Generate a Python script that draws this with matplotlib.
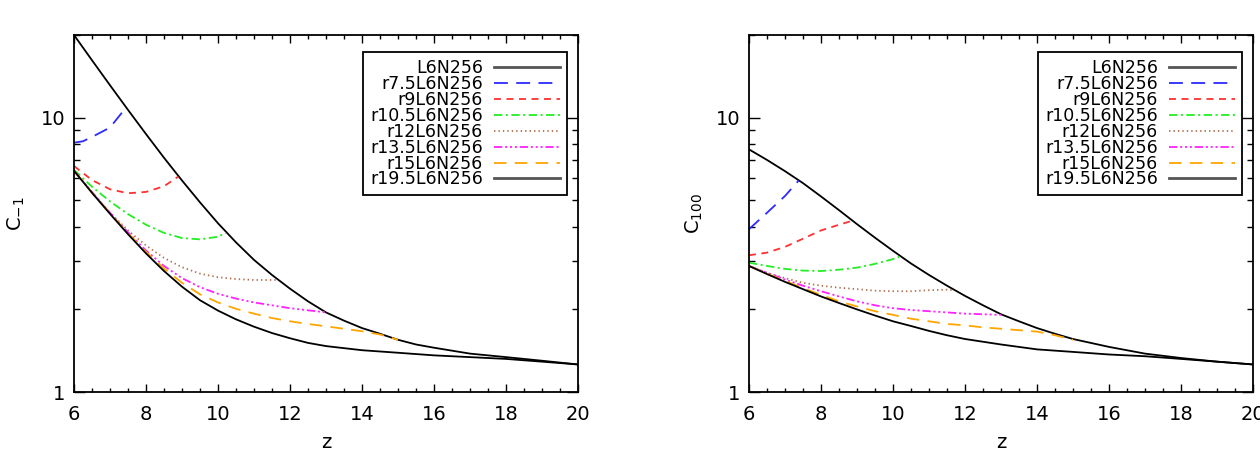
import matplotlib
matplotlib.use("Agg")
import matplotlib.pyplot as plt
from matplotlib.ticker import FixedLocator, FixedFormatter, NullFormatter

plt.rcParams["font.family"] = ["DejaVu Sans"]
plt.rcParams["lines.scale_dashes"] = False

# ---------------- data ----------------
# left panel: C_-1
x_up_l = [6, 6.5, 7, 7.5, 8, 8.5, 9, 9.5, 10, 10.5, 11, 11.5, 12, 12.5, 13, 13.5, 14, 14.5, 15, 15.5, 16, 17, 18, 19, 20]
y_up_l = [20.0, 16.18, 13.12, 10.67, 8.71, 7.14, 5.90, 4.91, 4.12, 3.51, 3.03, 2.67, 2.38, 2.14, 1.95,
          1.82, 1.71, 1.63, 1.55, 1.49, 1.45, 1.38, 1.34, 1.30, 1.26]
x_lo_l = [6, 6.5, 7, 7.5, 8, 8.5, 9, 9.5, 10, 10.5, 11, 11.5, 12, 12.5, 13, 14, 15, 16, 17, 18, 19, 20]
y_lo_l = [6.40, 5.32, 4.46, 3.76, 3.20, 2.76, 2.42, 2.16, 1.98, 1.84, 1.73, 1.64, 1.57, 1.51, 1.47,
          1.42, 1.39, 1.36, 1.34, 1.32, 1.29, 1.26]
x_r75_l = [6, 6.25, 6.5, 7, 7.45]
y_r75_l = [8.1, 8.2, 8.5, 9.2, 10.9]
x_r9_l = [6, 6.5, 7, 7.5, 8, 8.5, 8.9]
y_r9_l = [6.66, 5.92, 5.48, 5.30, 5.36, 5.62, 6.1]
x_r105_l = [6, 6.5, 7, 7.5, 8, 8.5, 9, 9.5, 10, 10.22]
y_r105_l = [6.45, 5.6, 4.95, 4.45, 4.07, 3.8, 3.64, 3.6, 3.68, 3.8]
x_r12_l = [6, 6.5, 7, 7.5, 8, 8.5, 9, 9.5, 10, 10.5, 11, 11.66]
y_r12_l = [6.4, 5.35, 4.5, 3.88, 3.42, 3.08, 2.85, 2.70, 2.62, 2.58, 2.56, 2.56]
x_r135_l = [6, 6.5, 7, 7.5, 8, 8.5, 9, 9.5, 10, 10.5, 11, 11.5, 12, 12.5, 13]
y_r135_l = [6.4, 5.35, 4.5, 3.82, 3.28, 2.88, 2.60, 2.41, 2.28, 2.19, 2.12, 2.07, 2.02, 1.985, 1.95]
x_r15_l = [6, 6.5, 7, 7.5, 8, 8.5, 9, 9.5, 10, 10.5, 11, 11.5, 12, 12.5, 13, 13.5, 14, 14.5, 15]
y_r15_l = [6.4, 5.33, 4.48, 3.79, 3.24, 2.82, 2.50, 2.27, 2.12, 2.01, 1.93, 1.86, 1.81, 1.77, 1.735,
           1.70, 1.665, 1.62, 1.55]

# right panel: C_100
x_up_r = [6, 6.5, 7, 7.5, 8, 8.5, 9, 9.5, 10, 10.5, 11, 11.5, 12, 12.5, 13, 13.5, 14, 14.5, 15, 16, 17, 18, 19, 20]
y_up_r = [7.66, 7.01, 6.38, 5.77, 5.16, 4.60, 4.09, 3.65, 3.27, 2.94, 2.67, 2.44, 2.24, 2.07, 1.92,
          1.81, 1.71, 1.63, 1.56, 1.46, 1.38, 1.33, 1.29, 1.26]
x_lo_r = [6, 6.5, 7, 7.5, 8, 8.5, 9, 9.5, 10, 10.5, 11, 11.5, 12, 13, 14, 15, 16, 17, 18, 19, 20]
y_lo_r = [2.88, 2.69, 2.52, 2.37, 2.23, 2.11, 2.00, 1.90, 1.81, 1.74, 1.67, 1.61, 1.56, 1.49, 1.43,
          1.40, 1.37, 1.35, 1.32, 1.29, 1.26]
x_r75_r = [6, 6.25, 6.5, 7, 7.38]
y_r75_r = [3.92, 4.2, 4.5, 5.18, 5.9]
x_r9_r = [6, 6.5, 7, 7.5, 8, 8.5, 8.85]
y_r9_r = [3.15, 3.22, 3.38, 3.62, 3.88, 4.07, 4.2]
x_r105_r = [6, 6.5, 7, 7.5, 8, 8.5, 9, 9.5, 10, 10.2]
y_r105_r = [2.96, 2.88, 2.81, 2.77, 2.76, 2.79, 2.84, 2.93, 3.05, 3.12]
x_r12_r = [6, 6.5, 7, 7.5, 8, 8.5, 9, 9.5, 10, 10.5, 11, 11.5, 11.7]
y_r12_r = [2.88, 2.72, 2.6, 2.5, 2.44, 2.4, 2.37, 2.34, 2.33, 2.33, 2.35, 2.36, 2.35]
x_r135_r = [6, 6.5, 7, 7.5, 8, 8.5, 9, 9.5, 10, 10.5, 11, 11.5, 12, 12.5, 13]
y_r135_r = [2.88, 2.72, 2.57, 2.44, 2.33, 2.23, 2.14, 2.07, 2.02, 1.99, 1.97, 1.95, 1.93, 1.92, 1.91]
x_r15_r = [6, 6.5, 7, 7.5, 8, 8.5, 9, 9.5, 10, 10.5, 11, 11.5, 12, 12.5, 13, 13.5, 14, 14.5, 15]
y_r15_r = [2.88, 2.70, 2.54, 2.39, 2.26, 2.14, 2.05, 1.97, 1.91, 1.85, 1.81, 1.77, 1.75, 1.72, 1.70,
           1.68, 1.66, 1.61, 1.55]

labels = ["L6N256", "r7.5L6N256", "r9L6N256", "r10.5L6N256",
          "r12L6N256", "r13.5L6N256", "r15L6N256", "r19.5L6N256"]

styles = [
    dict(color="black", ls="-"),
    dict(color="#2b2bff", ls=(0, (10, 6))),
    dict(color="#ff3030", ls=(0, (5, 4))),
    dict(color="#22ee22", ls=(0, (6, 2.5, 1.5, 2.5))),
    dict(color="#b07050", ls=(0, (1, 2.2))),
    dict(color="#ff22ff", ls=(0, (6, 2, 1.5, 2, 1.5, 2, 1.5, 2))),
    dict(color="#ffa500", ls=(0, (9, 6))),
    dict(color="black", ls="-"),
]

panels = [
    ([x_up_l, x_r75_l, x_r9_l, x_r105_l, x_r12_l, x_r135_l, x_r15_l, x_lo_l],
     [y_up_l, y_r75_l, y_r9_l, y_r105_l, y_r12_l, y_r135_l, y_r15_l, y_lo_l],
     r"C$_{-1}$", 74, 10),
    ([x_up_r, x_r75_r, x_r9_r, x_r105_r, x_r12_r, x_r135_r, x_r15_r, x_lo_r],
     [y_up_r, y_r75_r, y_r9_r, y_r105_r, y_r12_r, y_r135_r, y_r15_r, y_lo_r],
     r"C$_{100}$", 749, 8),
]

W, H = 1260, 457
fig = plt.figure(figsize=(W / 100, H / 100), dpi=100)

for xs, ys, ylab, left_px, ypad in panels:
    ax = fig.add_axes([left_px / W, (H - 392) / H, 504 / W, 357 / H])
    for x, y, lab, st in zip(xs, ys, labels, styles):
        ax.plot(x, y, lw=1.3, label=lab, **st)
    ax.set_yscale("log")
    ax.set_xlim(6, 20)
    ax.set_ylim(1, 20)
    ax.xaxis.set_major_locator(FixedLocator([6, 8, 10, 12, 14, 16, 18, 20]))
    ax.xaxis.set_minor_locator(FixedLocator([6 + 0.5 * i for i in range(29)]))
    ax.yaxis.set_major_locator(FixedLocator([1, 10]))
    ax.yaxis.set_minor_locator(FixedLocator([2, 3, 4, 5, 6, 7, 8, 9, 20]))
    ax.yaxis.set_major_formatter(FixedFormatter(["1", "10"]))
    ax.yaxis.set_minor_formatter(NullFormatter())
    ax.tick_params(axis="both", which="both", direction="in", top=True, right=True,
                   labelsize=14, colors="black", width=1.0)
    ax.tick_params(axis="x", which="major", length=5.5, pad=9)
    ax.tick_params(axis="x", which="minor", length=3)
    ax.tick_params(axis="y", which="major", length=8, pad=6)
    ax.tick_params(axis="y", which="minor", length=4)
    for sp in ax.spines.values():
        sp.set_linewidth(1.3)
    ax.set_xlabel("z", fontsize=14, labelpad=7)
    ax.set_ylabel(ylab, fontsize=14, labelpad=ypad)

    leg = ax.legend(loc="upper right", bbox_to_anchor=(0.978, 0.952), markerfirst=False,
                    fontsize=12.5, frameon=True, fancybox=False, framealpha=1,
                    edgecolor="black", handlelength=3.8, handletextpad=0.63,
                    labelspacing=-0.12, borderpad=0.4, borderaxespad=0)
    leg.get_frame().set_linewidth(1.3)
    for ln in leg.get_lines():
        if ln.get_color() == "black":
            ln.set_color("#555555")
            ln.set_linewidth(2.0)

fig.savefig("out.png", dpi=100)
